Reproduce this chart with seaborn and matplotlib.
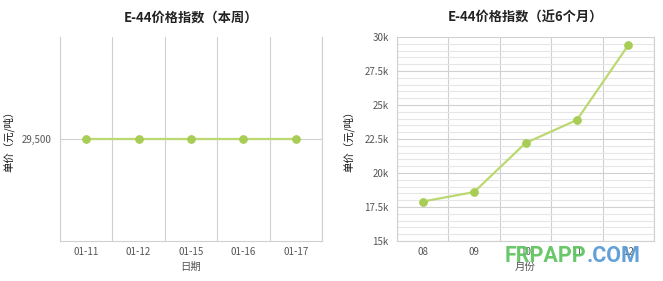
import matplotlib
matplotlib.use("Agg")
import matplotlib.pyplot as plt
import seaborn as sns
import pandas as pd
from matplotlib.ticker import FixedLocator, MultipleLocator, FuncFormatter

sns.set_theme(style="white")
plt.rcParams['font.family'] = ['Noto Sans CJK SC', 'DejaVu Sans']

# ---- data ----
week_dates = ["01-11", "01-12", "01-15", "01-16", "01-17"]
week_prices = [29500, 29500, 29500, 29500, 29500]
months = ["08", "09", "10", "11", "12"]
month_prices = [17900, 18600, 22200, 23900, 29400]

title_week = "E-44价格指数（本周）"
title_month = "E-44价格指数（近6个月）"
ylabel = "单价（元/吨）"
xlabel_week = "日期"
xlabel_month = "月份"

LINE = "#bcd870"
MARK = "#a8cd55"
GRID = "#d0d0d0"
MINOR = "#e6e6e6"
TICK = "#555555"

fig = plt.figure(figsize=(6.63, 2.81), dpi=100)
W, H = 663, 281

def axes_px(x0, x1, y0, y1):
    return fig.add_axes([x0 / W, 1 - y1 / H, (x1 - x0) / W, (y1 - y0) / H])

ax1 = axes_px(60, 322, 37, 241)
ax2 = axes_px(397, 654, 37, 241)

df1 = pd.DataFrame({"d": week_dates, "p": week_prices})
df2 = pd.DataFrame({"m": months, "p": month_prices})

for ax, df, xcol in [(ax1, df1, "d"), (ax2, df2, "m")]:
    sns.lineplot(data=df, x=xcol, y="p", ax=ax, sort=False, color=LINE,
                 linewidth=1.6, marker="o", markersize=5.5,
                 markerfacecolor=MARK, markeredgecolor=MARK, zorder=3)
    ax.set_xlim(-0.5, len(df) - 0.5)
    ax.xaxis.set_minor_locator(FixedLocator([i + 0.5 for i in range(-1, len(df))]))
    ax.grid(which="minor", axis="x", color=GRID, linewidth=0.8)
    ax.tick_params(axis="x", which="major", length=0, labelsize=7, colors=TICK, pad=4)
    ax.tick_params(axis="x", which="minor", length=4, color=GRID, width=0.8)
    ax.tick_params(axis="y", which="major", labelsize=7, colors=TICK, length=4,
                   color=GRID, width=0.8, pad=2)
    for s in ["left", "bottom", "right"]:
        ax.spines[s].set_color(GRID)
        ax.spines[s].set_linewidth(0.8)
    ax.spines["top"].set_visible(False)
    ax.set_ylabel(ylabel, fontsize=7.5, color="#111111")

# left chart
ax1.set_ylim(29000, 30000)
ax1.yaxis.set_major_locator(FixedLocator([29500]))
ax1.yaxis.set_major_formatter(FuncFormatter(lambda v, p: f"{int(v):,}"))
ax1.grid(which="major", axis="y", color=GRID, linewidth=0.8)
ax1.set_xlabel(xlabel_week, fontsize=7.5, color=TICK, labelpad=4)
ax1.set_title(title_week, fontsize=9.5, fontweight="bold", color="#222222", pad=11)
ax1.yaxis.set_label_coords(-0.175, 0.5)

# right chart
ax2.set_ylim(15000, 30000)
ax2.yaxis.set_major_locator(MultipleLocator(2500))
ax2.yaxis.set_minor_locator(MultipleLocator(500))
ax2.yaxis.set_major_formatter(FuncFormatter(
    lambda v, p: (f"{v/1000:g}k" if v % 1000 else f"{int(v/1000)}k")))
ax2.grid(which="major", axis="y", color=GRID, linewidth=0.8)
ax2.grid(which="minor", axis="y", color=MINOR, linewidth=0.8)
ax2.tick_params(axis="y", which="minor", length=0)
ax2.set_xlabel(xlabel_month, fontsize=7.5, color=TICK, labelpad=4)
ax2.set_title(title_month, fontsize=9.5, fontweight="bold", color="#222222", pad=11)
ax2.yaxis.set_label_coords(-0.165, 0.5)

# watermark
t1 = fig.text(505 / W, 1 - 256 / H, "FRPAPP", fontsize=15.5, fontweight="bold",
              color="#62c462", ha="left", va="center", family="Roboto", alpha=0.95)
ax2.annotate(".COM", xy=(1, 0.5), xycoords=t1, ha="left", va="center",
             fontsize=15.5, fontweight="bold", color="#5b9bd5",
             family="Roboto", alpha=0.95, annotation_clip=False)

fig.savefig("out.png", dpi=100)
